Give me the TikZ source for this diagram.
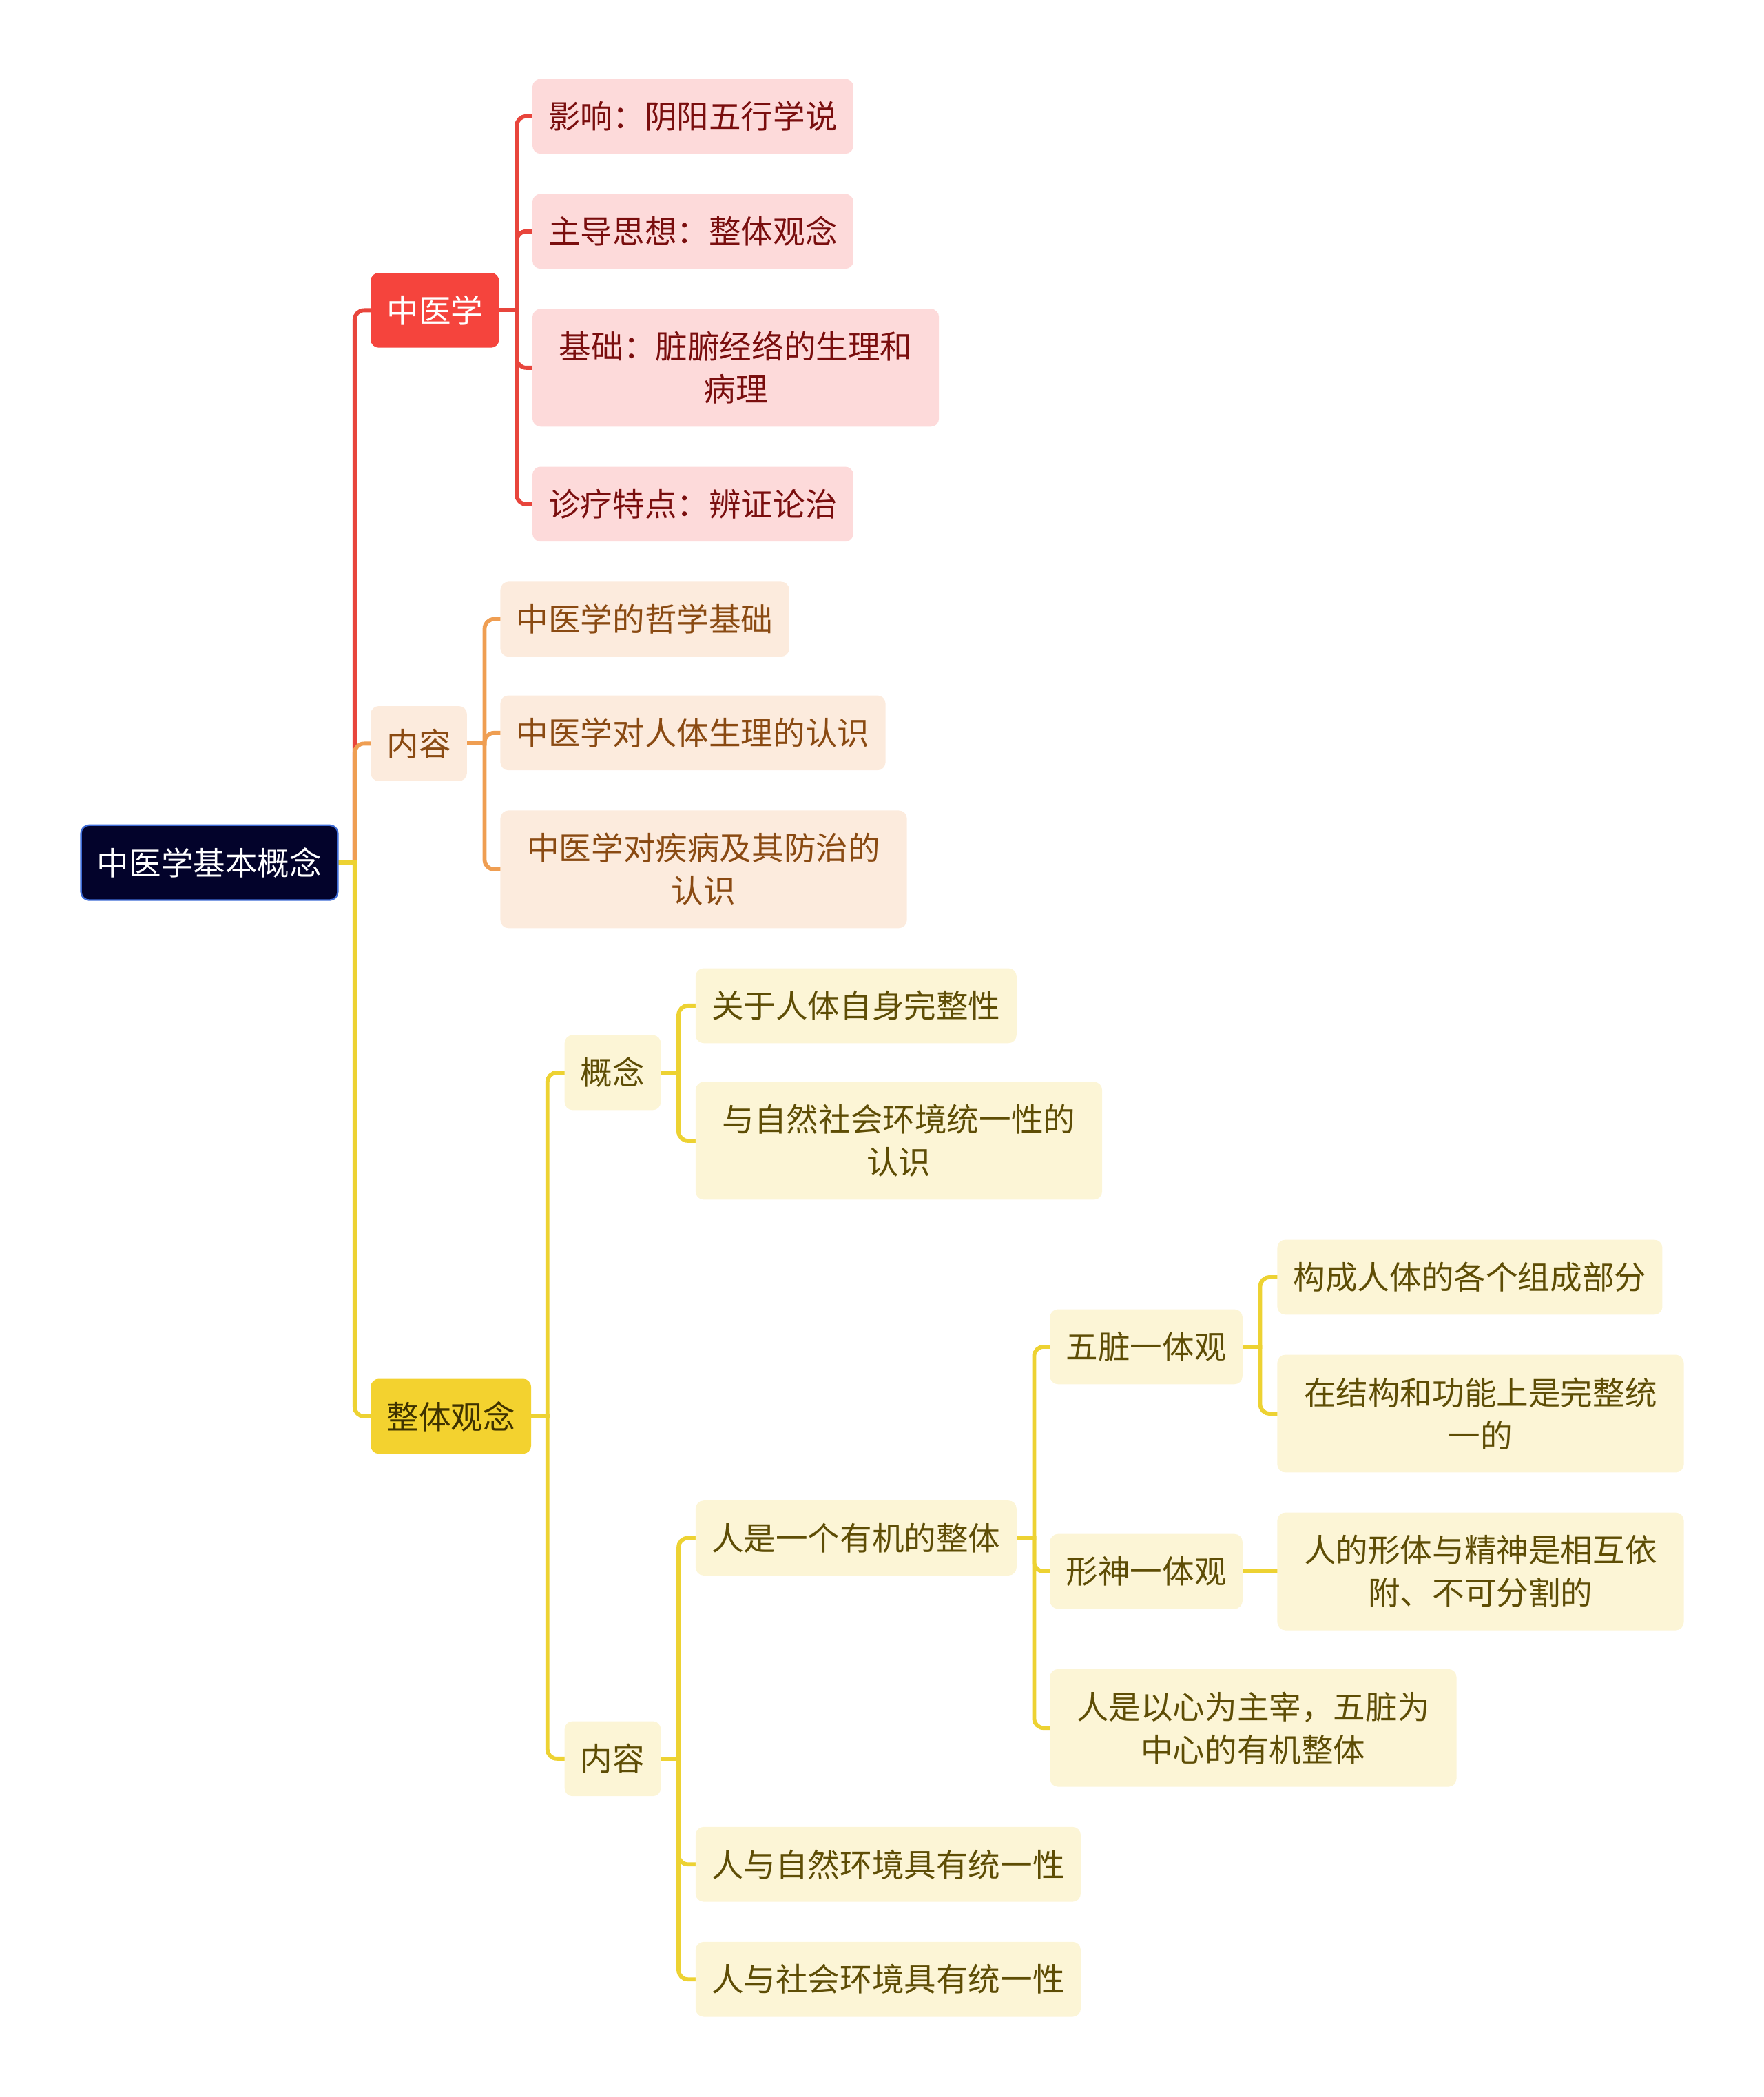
\documentclass[tikz,border=0pt]{standalone}
\usepackage{fontspec}
\newfontfamily\cjk{Noto Sans CJK SC}
\usetikzlibrary{backgrounds}
\definecolor{rootfill}{HTML}{03032B}
\definecolor{rootborder}{HTML}{3D6BD6}
\definecolor{redmain}{HTML}{F5443D}
\definecolor{redline}{HTML}{E8453C}
\definecolor{pinkfill}{HTML}{FDDADA}
\definecolor{redtext}{HTML}{7A0E0E}
\definecolor{orangeline}{HTML}{EF9E52}
\definecolor{orangefill}{HTML}{FCEBDD}
\definecolor{orangetext}{HTML}{8A4A12}
\definecolor{yellowmain}{HTML}{F3D22F}
\definecolor{yellowline}{HTML}{EDD232}
\definecolor{yellowfill}{HTML}{FCF5D6}
\definecolor{yellowtext}{HTML}{5E4D05}
\definecolor{darkyellowtext}{HTML}{3E3200}
\tikzset{
  box/.style={rounded corners=6pt, inner xsep=12pt, inner ysep=0pt, minimum height=56pt,
    anchor=west, font=\cjk\fontsize{24}{32}\selectfont},
  two/.style={text width=280pt, align=center, minimum height=88pt},
  rootbox/.style={fill=rootfill, draw=rootborder, line width=1.2pt, text=white},
  redbox/.style={fill=redmain, text=white},
  pinkbox/.style={fill=pinkfill, text=redtext},
  orbox/.style={fill=orangefill, text=orangetext},
  yelbox/.style={fill=yellowmain, text=darkyellowtext},
  ylbox/.style={fill=yellowfill, text=yellowtext},
  conn/.style={line width=3pt, rounded corners=7pt, line cap=rect}
}
\begin{document}
\begin{tikzpicture}[x=1pt, y=-1pt]
\useasboundingbox (0,0) rectangle (1319,1568);
\node[box,rootbox] (root) at (60,645) {中医学基本概念};
\node[box,redbox] (zyx) at (277,232) {中医学};
\node[box,pinkbox] (r1) at (398,87) {影响：阴阳五行学说};
\node[box,pinkbox] (r2) at (398,173) {主导思想：整体观念};
\node[box,pinkbox,two] (r3) at (398,275) {基础：脏腑经络的生理和\\病理};
\node[box,pinkbox] (r4) at (398,377) {诊疗特点：辨证论治};
\node[box,orbox] (nr) at (277,556) {内容};
\node[box,orbox] (o1) at (374,463) {中医学的哲学基础};
\node[box,orbox] (o2) at (374,548) {中医学对人体生理的认识};
\node[box,orbox,two] (o3) at (374,650) {中医学对疾病及其防治的\\认识};
\node[box,yelbox] (zt) at (277,1059) {整体观念};
\node[box,ylbox] (gn) at (422,802) {概念};
\node[box,ylbox] (g1) at (520,752) {关于人体自身完整性};
\node[box,ylbox,two] (g2) at (520,853) {与自然社会环境统一性的\\认识};
\node[box,ylbox] (nr2) at (422,1315) {内容};
\node[box,ylbox] (n1) at (520,1150) {人是一个有机的整体};
\node[box,ylbox] (wz) at (785,1007) {五脏一体观};
\node[box,ylbox] (w1) at (955,955) {构成人体的各个组成部分};
\node[box,ylbox,two] (w2) at (955,1057) {在结构和功能上是完整统\\一的};
\node[box,ylbox] (xs) at (785,1175) {形神一体观};
\node[box,ylbox,two] (x1) at (955,1175) {人的形体与精神是相互依\\附、不可分割的};
\node[box,ylbox,two] (n13) at (785,1292) {人是以心为主宰，五脏为\\中心的有机整体};
\node[box,ylbox] (n2) at (520,1394) {人与自然环境具有统一性};
\node[box,ylbox] (n3) at (520,1480) {人与社会环境具有统一性};
\begin{scope}[on background layer]
  \path (root.east) ++(12,0) coordinate (tj);
  \draw[conn,redline] (tj) |- (zyx.west);
  \draw[conn,orangeline] (tj) |- (nr.west);
  \draw[conn,yellowline] (tj) |- (zt.west);
  \draw[conn,yellowline] (root.east) -- (tj);
  % 中医学
  \path (zyx.east) ++(13,0) coordinate (zj);
  \draw[conn,redline] (zyx.east) -- (zj);
  \foreach \c in {r1,r2,r3,r4} \draw[conn,redline] (zj) |- (\c.west);
  % 内容 (orange)
  \path (nr.east) ++(13,0) coordinate (nj);
  \draw[conn,orangeline] (nr.east) -- (nj);
  \foreach \c in {o1,o2,o3} \draw[conn,orangeline] (nj) |- (\c.west);
  % 整体观念
  \path (zt.east) ++(12,0) coordinate (ztj);
  \draw[conn,yellowline] (zt.east) -- (ztj);
  \foreach \c in {gn,nr2} \draw[conn,yellowline] (ztj) |- (\c.west);
  % 概念
  \path (gn.east) ++(13,0) coordinate (gj);
  \draw[conn,yellowline] (gn.east) -- (gj);
  \foreach \c in {g1,g2} \draw[conn,yellowline] (gj) |- (\c.west);
  % 内容 (yellow)
  \path (nr2.east) ++(13,0) coordinate (n2j);
  \draw[conn,yellowline] (nr2.east) -- (n2j);
  \foreach \c in {n1,n2,n3} \draw[conn,yellowline] (n2j) |- (\c.west);
  % 人是一个有机的整体
  \path (n1.east) ++(13,0) coordinate (n1j);
  \draw[conn,yellowline] (n1.east) -- (n1j);
  \foreach \c in {wz,xs,n13} \draw[conn,yellowline] (n1j) |- (\c.west);
  % 五脏一体观
  \path (wz.east) ++(13,0) coordinate (wj);
  \draw[conn,yellowline] (wz.east) -- (wj);
  \foreach \c in {w1,w2} \draw[conn,yellowline] (wj) |- (\c.west);
  % 形神一体观
  \draw[conn,yellowline] (xs.east) -- (x1.west);
\end{scope}
\end{tikzpicture}
\end{document}
